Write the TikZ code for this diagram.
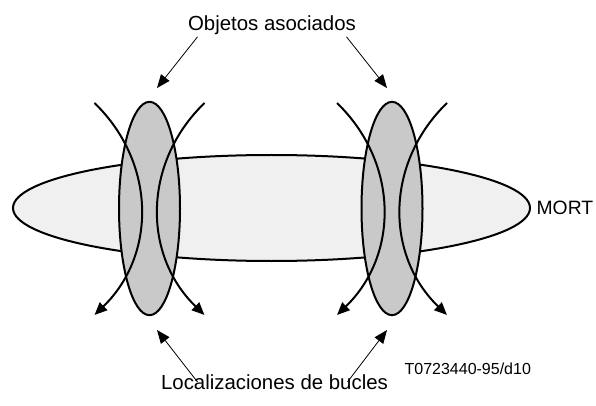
\documentclass[tikz,border=0pt]{standalone}
\usepackage{fontspec}
\setmainfont{Liberation Sans}
\usetikzlibrary{arrows.meta, positioning, shapes.geometric}
\definecolor{mortgray}{gray}{0.94}
\definecolor{buclegray}{gray}{0.79}

\begin{document}
\begin{tikzpicture}[
    x=0.75pt, y=-0.75pt,
    node distance=3pt,
    mortbox/.style={ellipse, draw=black, line width=1.5pt, fill=mortgray, minimum width=387.75pt, minimum height=79.5pt, inner sep=0pt},
    ringbox/.style={ellipse, draw=black, line width=1.5pt, fill=buclegray, minimum width=45.75pt, minimum height=160pt, inner sep=0pt},
    textbox/.style={inner sep=1pt, font=\fontsize{15.3}{18}\selectfont},
    codebox/.style={inner sep=1pt, font=\fontsize{12}{14}\selectfont},
    arrow/.style={-{Triangle[length=10pt, width=8pt]}, line width=0.6pt},
    fluxarrow/.style={-{Triangle[length=9.5pt, width=8pt]}, line width=1.5pt}
]
\useasboundingbox (0,0) rectangle (596,406);

% MORT
\node[mortbox] (mort) at (271.5,208) {};
\node[textbox, font=\fontsize{14.5}{17}\selectfont, right=of mort] (mortlbl) {MORT};

% objetos asociados
\node[ringbox] (ringL) at (149.5,208.5) {};
\node[ringbox] (ringR) at (392,208.5) {};

% bucles
\foreach \r in {ringL, ringR}
  \foreach \s in {-1, 1}
    \draw[fluxarrow] ([shift={(\s*55,-105.5)}]\r.center)
      .. controls ([shift={(0-\s*7,-45.5)}]\r.center) and ([shift={(0-\s*7,46.5)}]\r.center)
      .. ([shift={(\s*55,106.5)}]\r.center);

% textos
\node[textbox, anchor=base] (objetos) at (272,31) {Objetos asociados};
\node[textbox, anchor=base] (bucles) at (274.5,389) {Localizaciones de bucles};
\node[codebox, anchor=base west] (code) at (403,374) {T0723440-95/d10};

% flechas
\coordinate (objL) at (157,88);
\coordinate (objR) at (387,88);
\coordinate (bucL) at (157,330);
\coordinate (bucR) at (387,330);
\draw[arrow] ([xshift=8.25pt]objetos.south west) -- (objL);
\draw[arrow] ([xshift=-8.25pt]objetos.south east) -- (objR);
\draw[arrow] ([xshift=28.5pt, yshift=-7pt]bucles.north west) -- (bucL);
\draw[arrow] ([xshift=-31.5pt, yshift=-7pt]bucles.north east) -- (bucR);
\end{tikzpicture}
\end{document}
